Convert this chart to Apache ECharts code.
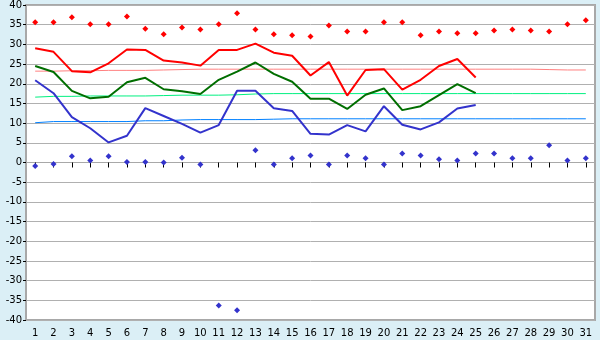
<!DOCTYPE html>
<html>
<head>
<meta charset="utf-8">
<style>
  html, body { margin: 0; padding: 0; background: #dbeff6; }
  #chart { width: 600px; height: 340px; }
</style>
<script src="https://cdn.jsdelivr.net/npm/echarts@6/dist/echarts.min.js"></script>
</head>
<body>
<div id="chart"></div>
<script>
// days of the month
const days = ['1', '2', '3', '4', '5', '6', '7', '8', '9', '10', '11', '12', '13', '14', '15', '16',
  '17', '18', '19', '20', '21', '22', '23', '24', '25', '26', '27', '28', '29', '30', '31']
// record values (diamonds)
const recMax = [35.6, 35.6, 36.9, 35.1, 35.1, 37.1, 34.0, 32.6, 34.3, 33.8, 35.1, 37.9, 33.8, 32.6, 32.3, 32.0,
  34.8, 33.3, 33.3, 35.6, 35.6, 32.3, 33.3, 32.8, 32.8, 33.5, 33.8, 33.5, 33.3, 35.1, 36.1]
const recMin = [-0.9, -0.4, 1.6, 0.5, 1.6, 0.1, 0.1, 0.0, 1.2, -0.5, -36.3, -37.5, 3.1, -0.5, 1.1, 1.8,
  -0.5, 1.8, 1.1, -0.5, 2.3, 1.8, 0.8, 0.5, 2.3, 2.3, 1.1, 1.1, 4.4, 0.5, 1.1]
// this month's daily values
const tMax = [29.0, 28.1, 23.2, 22.9, 25.2, 28.7, 28.6, 25.9, 25.4, 24.6, 28.6, 28.6, 30.2, 27.9, 27.1, 22.1,
  25.5, 17.0, 23.5, 23.7, 18.5, 21.0, 24.5, 26.3, 21.6]
const tMean = [24.5, 23.0, 18.2, 16.3, 16.7, 20.4, 21.5, 18.6, 18.1, 17.4, 21.0, 23.1, 25.4, 22.5, 20.5, 16.2,
  16.2, 13.6, 17.2, 18.8, 13.3, 14.3, 17.1, 19.9, 17.6]
const tMin = [20.9, 17.6, 11.5, 8.7, 5.1, 6.8, 13.8, 11.8, 9.8, 7.6, 9.5, 18.2, 18.2, 13.8, 13.1, 7.3,
  7.1, 9.5, 7.9, 14.3, 9.6, 8.4, 10.2, 13.7, 14.6]
// normals
const normMax = [23.2, 23.2, 23.3, 23.3, 23.4, 23.4, 23.4, 23.5, 23.6, 23.7, 23.7, 23.7, 23.7, 23.7, 23.7, 23.7,
  23.7, 23.7, 23.7, 23.7, 23.7, 23.7, 23.7, 23.7, 23.7, 23.7, 23.7, 23.7, 23.6, 23.5, 23.5]
const normMean = [16.6, 16.8, 16.8, 16.9, 16.9, 16.9, 16.9, 17.0, 17.1, 17.1, 17.1, 17.2, 17.4, 17.5, 17.5, 17.5,
  17.5, 17.5, 17.5, 17.5, 17.5, 17.5, 17.5, 17.5, 17.5, 17.5, 17.5, 17.5, 17.5, 17.5, 17.5]
const normMin = [10.1, 10.4, 10.4, 10.4, 10.4, 10.4, 10.6, 10.6, 10.8, 10.9, 10.9, 10.9, 10.9, 11.0, 11.1, 11.1,
  11.1, 11.1, 11.1, 11.1, 11.1, 11.1, 11.1, 11.1, 11.1, 11.1, 11.1, 11.1, 11.1, 11.1, 11.1]

const myChart = echarts.init(document.getElementById('chart'))

function lineSeries(data, color, width) {
  return {
    type: 'line',
    data: data,
    symbol: 'none',
    animation: false,
    lineStyle: { color: color, width: width },
    z: width > 1 ? 4 : 3
  }
}

function dots(data, color) {
  return {
    type: 'scatter',
    data: data,
    symbol: 'diamond',
    symbolSize: 6,
    animation: false,
    itemStyle: { color: color, opacity: 1 },
    z: 5
  }
}

myChart.setOption({
  backgroundColor: '#dbeff6',
  textStyle: { fontFamily: 'DejaVu Sans' },
  grid: {
    left: 26,
    right: 5,
    top: 5,
    bottom: 20,
    show: true,
    backgroundColor: '#ffffff',
    borderColor: '#a8a8a8',
    borderWidth: 2
  },
  xAxis: {
    type: 'category',
    data: days,
    boundaryGap: true,
    axisLine: { show: true, lineStyle: { color: '#a8a8a8', width: 1 } },
    axisTick: { show: true, alignWithLabel: true, length: 5, lineStyle: { color: '#000000' } },
    axisLabel: { color: '#000000', fontSize: 10, margin: 8 },
    splitLine: { show: false }
  },
  yAxis: {
    type: 'value',
    min: -40,
    max: 40,
    interval: 5,
    axisLine: { show: true, lineStyle: { color: '#a8a8a8' } },
    axisTick: { show: true, length: 3, lineStyle: { color: '#000000' } },
    axisLabel: { color: '#000000', fontSize: 10, margin: 4 },
    splitLine: { show: true, lineStyle: { color: '#b0b0b0', width: 1 } }
  },
  series: [
    lineSeries(normMax, '#ff8080', 1),
    lineSeries(normMean, '#00f080', 1),
    lineSeries(normMin, '#0080ff', 1),
    lineSeries(tMax, '#ff0000', 2),
    lineSeries(tMean, '#006e00', 2),
    lineSeries(tMin, '#3333cc', 2),
    dots(recMax, '#ff0000'),
    dots(recMin, '#3333cc')
  ]
})
window.onresize = function() {
  myChart.resize()
}
</script>
</body>
</html>
